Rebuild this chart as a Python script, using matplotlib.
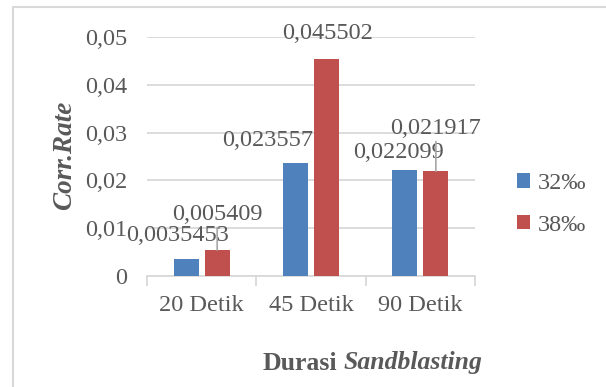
import matplotlib
matplotlib.use("Agg")
import matplotlib.pyplot as plt
from matplotlib.patches import Rectangle
import numpy as np

# datos de la grafica
kategori = ["20 Detik", "45 Detik", "90 Detik"]
seri_32 = [0.0035453, 0.023557, 0.022099]
seri_38 = [0.005409, 0.045502, 0.021917]
label_32 = ["0,0035453", "0,023557", "0,022099"]
label_38 = ["0,005409", "0,045502", "0,021917"]
legenda = ["32‰", "38‰"]
yticks = [0, 0.01, 0.02, 0.03, 0.04, 0.05]
ytick_labels = ["0", "0,01", "0,02", "0,03", "0,04", "0,05"]

biru = "#4F81BD"
merah = "#C0504D"
abu_teks = "#595959"
abu_garis = "#D9D9D9"

plt.rcParams["font.family"] = ["Liberation Serif", "DejaVu Serif"]

W, H = 606, 387
fig = plt.figure(figsize=(W / 100, H / 100), dpi=100)

# borde del grafico
fig.patches.append(Rectangle((13 / W, -0.1), 1.2, 1 - 7 / H + 0.1,
                             transform=fig.transFigure, fill=False,
                             edgecolor=abu_garis, linewidth=1.5))

# area del grafico
x0, x1, ytop, ybot = 147, 475, 37, 276
ax = fig.add_axes([x0 / W, 1 - ybot / H, (x1 - x0) / W, (ybot - ytop) / H])

x = np.arange(len(kategori))
lebar = 0.23
geser = 0.142
b1 = ax.bar(x - geser, seri_32, lebar, color=biru, label=legenda[0], zorder=3)
b2 = ax.bar(x + geser, seri_38, lebar, color=merah, label=legenda[1], zorder=3)

ax.set_xlim(-0.5, 2.5)
ax.set_ylim(0, 0.05)
ax.set_yticks(yticks)
ax.set_yticklabels(ytick_labels)
ax.set_xticks(x)
ax.set_xticklabels(kategori)
ax.set_xticks([-0.5, 0.5, 1.5, 2.5], minor=True)
ax.tick_params(axis="x", which="major", length=0, pad=14, labelsize=17.5, labelcolor=abu_teks)
ax.tick_params(axis="x", which="minor", length=7, width=1.3, color=abu_garis)
ax.tick_params(axis="y", length=0, pad=14, labelsize=17.5, labelcolor=abu_teks)
ax.grid(axis="y", color=abu_garis, linewidth=1.3, zorder=0)
for s in ["top", "right", "left"]:
    ax.spines[s].set_visible(False)
ax.spines["bottom"].set_color(abu_garis)
ax.spines["bottom"].set_linewidth(1.3)

# etiquetas de datos (desplazamiento en pixeles)
px = 0.72
geser_label_32 = [(-8.5, 24), (-28, 23), (-6, 18)]
geser_label_38 = [(0, 36), (1, 25), (0, 43)]
garis = [True, False, True]
for i in range(len(kategori)):
    dx, dy = geser_label_32[i]
    ax.annotate(label_32[i], (x[i] - geser, seri_32[i]), xytext=(dx * px, dy * px),
                textcoords="offset points", ha="center", va="center",
                fontsize=17.5, color=abu_teks, zorder=5)
    dx, dy = geser_label_38[i]
    props = None
    if garis[i]:
        props = dict(arrowstyle="-", color="#A6A6A6", lw=1.2, shrinkA=0, shrinkB=0)
    ax.annotate(label_38[i], (x[i] + geser, seri_38[i]), xytext=(dx * px, dy * px),
                textcoords="offset points", ha="center", va="center",
                fontsize=17.5, color=abu_teks, zorder=5, arrowprops=props)

# legenda
ax.legend(loc="center left", bbox_to_anchor=((495 - x0) / (x1 - x0), 0.30),
          frameon=False, fontsize=17.5, labelcolor=abu_teks, handlelength=0.55,
          handleheight=0.55, handletextpad=0.3, labelspacing=0.85)

# titulos de ejes
fig.text(65 / W, 1 - 155 / H, "Corr.Rate", rotation=90, ha="center", va="center",
         fontsize=19.5, fontweight="bold", fontstyle="italic", color=abu_teks)
fig.text(337 / W, 1 - 363 / H, "Durasi", ha="right", va="center",
         fontsize=18.5, fontweight="bold", color=abu_teks)
fig.text(344 / W, 1 - 363 / H, "Sandblasting", ha="left", va="center",
         fontsize=18.5, fontweight="bold", fontstyle="italic", color=abu_teks)

fig.savefig("out.png", dpi=100)
